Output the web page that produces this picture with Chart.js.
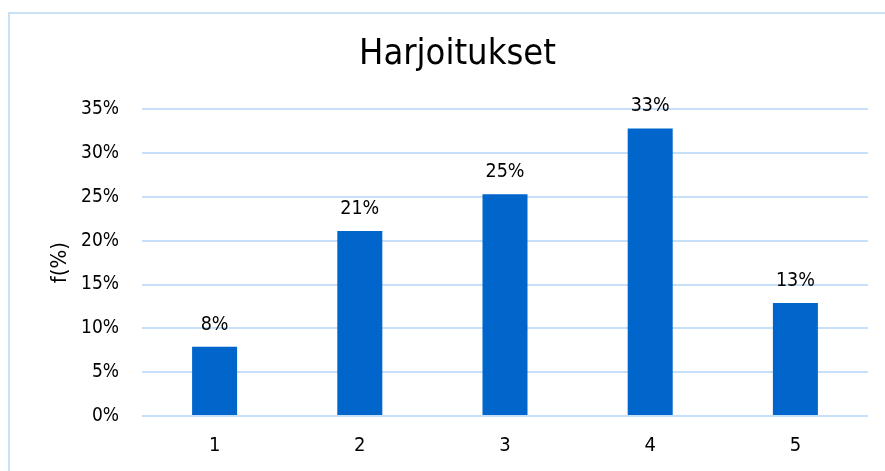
<!DOCTYPE html>
<html>
<head>
<meta charset="utf-8">
<script src="https://cdn.jsdelivr.net/npm/chart.js@4"></script>
<style>
  html, body { margin: 0; padding: 0; background: #fff; overflow: hidden; }
  #frame { position: absolute; left: 8px; top: 12px; width: 2000px; height: 2000px;
           border-left: 2px solid #c9e2f8; border-top: 2px solid #c9e2f8; }
  #wrap { position: absolute; left: 0; top: 0; width: 885px; height: 471px; }
</style>
</head>
<body>
<div id="frame"></div>
<div id="wrap"><canvas id="chart"></canvas></div>
<script>
const categorias = ["1", "2", "3", "4", "5"];
const valores = [7.9, 21.1, 25.3, 32.8, 12.9];
const ticksY = [0, 5, 10, 15, 20, 25, 30, 35];

const FONTE = "'DejaVu Sans Condensed', 'DejaVu Sans', sans-serif";
const COR_BARRA = "#0066cc";
const COR_GRID = "#c5e0f8";
const COR_TEXTO = "#000";

const rotulosBarras = {
  id: "rotulosBarras",
  afterDatasetsDraw(chart) {
    const ctx = chart.ctx;
    const meta = chart.getDatasetMeta(0);
    ctx.save();
    ctx.font = "19.5px " + FONTE;
    ctx.fillStyle = COR_TEXTO;
    ctx.textAlign = "center";
    ctx.textBaseline = "alphabetic";
    meta.data.forEach((bar, i) => {
      ctx.fillText(Math.round(valores[i]) + "%", bar.x, bar.y - 17);
    });
    ctx.restore();
  },
};

new Chart(document.getElementById("chart"), {
  type: "bar",
  data: {
    labels: categorias,
    datasets: [{
      data: valores,
      backgroundColor: COR_BARRA,
      barPercentage: 0.62,
      categoryPercentage: 0.5,
    }],
  },
  options: {
    responsive: true,
    maintainAspectRatio: false,
    animation: false,
    layout: { padding: { left: 47, right: 17, top: 0, bottom: 0 } },
    plugins: {
      legend: { display: false },
      tooltip: { enabled: false },
      title: {
        display: true,
        text: "Harjoitukset",
        color: COR_TEXTO,
        font: { family: FONTE, size: 36, weight: "normal", lineHeight: 1.2 },
        padding: { top: 33, bottom: 33 },
      },
    },
    scales: {
      x: {
        grid: { display: false },
        border: { display: false },
        ticks: { color: COR_TEXTO, padding: 10, font: { family: FONTE, size: 20 } },
        afterFit(scale) { scale.height = 55; },
      },
      y: {
        min: 0,
        max: 35,
        afterBuildTicks(scale) { scale.ticks = ticksY.map((v) => ({ value: v })); },
        grid: { color: COR_GRID, lineWidth: 2, drawTicks: false },
        border: { display: false },
        ticks: {
          color: COR_TEXTO,
          padding: 23,
          font: { family: FONTE, size: 19 },
          callback: (v) => v + "%",
        },
        title: {
          display: true,
          text: "f(%)",
          color: COR_TEXTO,
          padding: 0,
          font: { family: FONTE, size: 22, lineHeight: 1.2 },
        },
        afterFit(scale) { scale.width = 142 - 47; },
      },
    },
  },
  plugins: [rotulosBarras],
});
</script>
</body>
</html>
